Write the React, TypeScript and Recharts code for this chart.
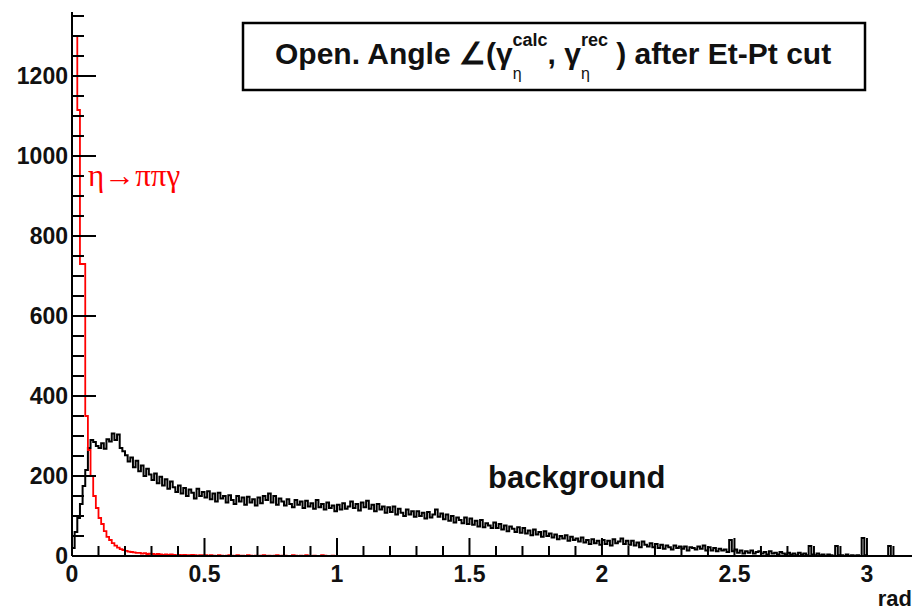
import React from "react"
import { LineChart, Line, XAxis, YAxis } from "recharts"

// bin width 0.01 rad, values per bin (rows of 10 = 0.1 rad)
const binWidth = 0.01

const background: number[] = [
   20, 60, 95, 130, 175, 215, 270, 290, 285, 275,
   270, 282, 268, 292, 286, 306, 290, 304, 270, 262,
   252, 236, 246, 222, 238, 212, 226, 200, 218, 204,
   190, 206, 182, 198, 176, 192, 168, 186, 172, 160,
   176, 156, 170, 150, 166, 158, 144, 168, 150, 160,
   146, 162, 142, 156, 136, 158, 144, 150, 134, 152,
   140, 130, 150, 136, 146, 128, 148, 134, 142, 126,
   146, 132, 150, 140, 156, 134, 150, 128, 144, 136,
   126, 142, 130, 122, 140, 128, 136, 120, 138, 124,
   132, 118, 140, 122, 130, 116, 134, 120, 126, 112,
   128, 116, 132, 118, 124, 136, 120, 130, 114, 134,
   122, 138, 118, 128, 112, 130, 116, 124, 108, 122,
   110, 124, 104, 118, 108, 100, 116, 104, 112, 98,
   112, 100, 108, 94, 110, 96, 104, 116, 98, 106,
   92, 104, 88, 100, 84, 96, 90, 82, 96, 80,
   94, 78, 88, 74, 90, 72, 82, 76, 70, 84,
   70, 80, 66, 76, 62, 74, 68, 60, 72, 58,
   70, 56, 64, 52, 66, 54, 60, 48, 62, 50,
   56, 46, 54, 42, 50, 44, 52, 38, 48, 40,
   44, 36, 46, 34, 40, 30, 42, 32, 38, 28,
   40, 30, 38, 26, 42, 32, 36, 44, 30, 38,
   28, 38, 26, 34, 22, 36, 28, 24, 32, 22,
   30, 20, 28, 18, 26, 22, 16, 26, 20, 24,
   18, 24, 14, 22, 20, 16, 24, 18, 26, 14,
   22, 14, 20, 12, 18, 14, 16, 10, 40, 12,
   16, 8, 14, 6, 12, 8, 14, 6, 10, 12,
   6, 10, 4, 12, 6, 8, 4, 10, 6, 4,
   8, 4, 6, 2, 8, 4, 6, 2, 25, 4,
   2, 6, 2, 4, 0, 4, 2, 0, 25, 2,
   2, 0, 4, 0, 2, 0, 2, 0, 45, 2,
   0, 0, 0, 0, 0, 0, 0, 0, 25, 0,
   0, 0, 0, 0,
]

const etaPiPiGamma: number[] = [
   1300, 1300, 1115, 730, 730, 350, 265, 200, 150, 120,
   95, 80, 62, 48, 40, 32, 26, 21, 17, 15,
   13, 11, 10, 9, 8, 8, 6, 7, 5, 6,
   5, 4, 5, 4, 3, 4, 3, 4, 3, 2,
   3, 2, 3, 2, 2, 3, 2, 1, 2, 2,
   2, 1, 2, 1, 0, 2, 1, 0, 1, 2,
   1, 0, 2, 1, 1, 0, 2, 1, 0, 1,
   0, 1, 2, 0, 1, 0, 1, 2, 0, 1,
   1, 0, 0, 2, 1, 0, 1, 0, 2, 0,
   0, 1, 0, 0, 2, 1, 0, 0, 1, 0,
   0,
]

const xTicks: number[] = Array.from({ length: 32 }, (_, i) => i / 10)
const yTicks: number[] = Array.from({ length: 28 }, (_, i) => i * 50)

const data = Array.from({ length: background.length + 1 }, (_, i) => ({
   x: Math.round(i * binWidth * 100) / 100,
   black: i < background.length ? background[i] : 0,
   red: etaPiPiGamma[i],
}))

const font = "'Liberation Sans', Arial, sans-serif"

const XTick = (p: any) => {
   const v = p.payload.value
   const major = Math.abs(v * 2 - Math.round(v * 2)) < 1e-6
   return (
      <g>
         <line x1={p.x} x2={p.x} y1={p.y} y2={p.y - (major ? 18 : 10)} stroke="#000" strokeWidth={2} />
         {major && (
            <text x={p.x} y={p.y + 26} textAnchor="middle" fontFamily={font} fontWeight="bold" fontSize={23} fill="#111">
               {String(v)}
            </text>
         )}
      </g>
   )
}

const YTick = (p: any) => {
   const v = p.payload.value
   const major = v % 200 === 0
   return (
      <g>
         <line x1={p.x} x2={p.x + (major ? 24 : 12)} y1={p.y} y2={p.y} stroke="#000" strokeWidth={2} />
         {major && (
            <text x={p.x - 4} y={p.y + 8} textAnchor="end" fontFamily={font} fontWeight="bold" fontSize={23} fill="#111">
               {String(v)}
            </text>
         )}
      </g>
   )
}

const App: React.FC = () => {
   return (
      <div style={{ position: "absolute", left: 0, top: 0, width: 917, height: 611, background: "#fff" }}>
         <LineChart width={917} height={611} data={data} margin={{ top: 12, right: 5, bottom: 0, left: 0 }}>
            <XAxis
               dataKey="x"
               type="number"
               domain={[0, 3.17]}
               allowDataOverflow
               ticks={xTicks}
               interval={0}
               tickSize={0}
               tickMargin={0}
               tickLine={false}
               tick={(p: any) => <XTick {...p} />}
               height={55}
               axisLine={{ stroke: "#000", strokeWidth: 2 }}
            />
            <XAxis xAxisId="top" orientation="top" type="number" domain={[0, 3.17]} height={0} tick={false} tickLine={false} axisLine={{ stroke: "#000", strokeWidth: 2 }} />
            <YAxis
               type="number"
               domain={[0, 1360]}
               allowDataOverflow
               ticks={yTicks}
               interval={0}
               tickSize={0}
               tickMargin={0}
               tickLine={false}
               tick={(p: any) => <YTick {...p} />}
               width={72}
               axisLine={{ stroke: "#000", strokeWidth: 2 }}
            />
            <YAxis yAxisId="right" orientation="right" type="number" domain={[0, 1360]} width={0} tick={false} tickLine={false} axisLine={{ stroke: "#000", strokeWidth: 2 }} />
            <Line type="stepAfter" dataKey="black" stroke="#000" strokeWidth={2} dot={false} isAnimationActive={false} />
            <Line type="stepAfter" dataKey="red" stroke="#ff0000" strokeWidth={1.8} dot={false} isAnimationActive={false} />
         </LineChart>
         <svg width={917} height={611} style={{ position: "absolute", left: 0, top: 0, pointerEvents: "none" }}>
            <rect x={243} y={23} width={622} height={67} fill="#fff" stroke="#000" strokeWidth={2.5} />
            <text x={275} y={64} fontFamily={font} fontWeight="bold" fontSize={30} fill="#111">
               Open. Angle ∠(γ
               <tspan dy={-18} fontSize={18}>calc</tspan>
               <tspan dx={-35} dy={33} fontSize={16} fontWeight="normal">η</tspan>
               <tspan dx={26} dy={-15}>, γ</tspan>
               <tspan dy={-18} fontSize={18}>rec</tspan>
               <tspan dx={-27} dy={33} fontSize={16} fontWeight="normal">η</tspan>
               <tspan dx={18} dy={-15}> ) after Et-Pt cut</tspan>
            </text>
            <text x={88} y={186} fontFamily="'Liberation Serif', 'DejaVu Serif', serif" fontSize={31} fill="#ff0000">
               η→ππγ
            </text>
            <text x={488} y={488} fontFamily={font} fontWeight="bold" fontSize={31} fill="#111">
               background
            </text>
            <text x={912} y={606} textAnchor="end" fontFamily={font} fontWeight="bold" fontSize={22} fill="#111">
               rad
            </text>
         </svg>
      </div>
   )
}

export default App
